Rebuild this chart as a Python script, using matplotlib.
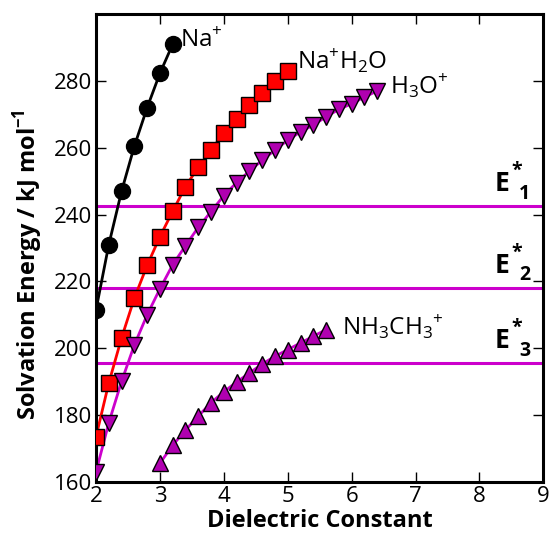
import matplotlib
matplotlib.use("Agg")
import matplotlib.pyplot as plt

plt.rcParams['font.family'] = ['Open Sans', 'DejaVu Sans']
plt.rcParams['mathtext.fontset'] = 'custom'
plt.rcParams['mathtext.rm'] = 'Open Sans'
plt.rcParams['mathtext.bf'] = 'Open Sans:bold'

# Na+
na_x = [2.0, 2.2, 2.4, 2.6, 2.8, 3.0, 3.2]
na_y = [211.5, 231.0, 247.0, 260.5, 272.0, 282.3, 291.0]

# Na+H2O
nah2o_x = [2.0, 2.2, 2.4, 2.6, 2.8, 3.0, 3.2, 3.4, 3.6, 3.8, 4.0, 4.2, 4.4, 4.6, 4.8, 5.0]
nah2o_y = [173.5, 189.6, 203.1, 215.0, 224.8, 233.4, 241.0, 248.4, 254.2, 259.3,
           264.5, 268.7, 272.7, 276.5, 280.0, 283.0]

# H3O+
h3o_x = [2.0, 2.2, 2.4, 2.6, 2.8, 3.0, 3.2, 3.4, 3.6, 3.8, 4.0, 4.2, 4.4, 4.6, 4.8,
         5.0, 5.2, 5.4, 5.6, 5.8, 6.0, 6.2, 6.4]
h3o_y = [163.0, 177.7, 190.1, 201.0, 210.0, 217.8, 225.0, 230.7, 236.2, 240.9, 245.7,
         249.6, 253.0, 256.3, 259.3, 262.3, 264.8, 266.8, 269.3, 271.5, 273.2, 275.2, 277.0]

# NH3CH3+
nh3_x = [3.0, 3.2, 3.4, 3.6, 3.8, 4.0, 4.2, 4.4, 4.6, 4.8, 5.0, 5.2, 5.4, 5.6]
nh3_y = [165.6, 171.0, 175.5, 179.7, 183.7, 187.0, 189.9, 192.6, 195.3, 197.6,
         199.6, 201.6, 203.6, 205.6]

# threshold energies
e_star = [242.5, 218.0, 195.5]
e_subs = ['1', '2', '3']

x_ticks = [2, 3, 4, 5, 6, 7, 8, 9]
y_ticks = [160, 180, 200, 220, 240, 260, 280]

purple = '#B000B0'
line_purple = '#CC00CC'

fig = plt.figure(figsize=(5.53, 5.44), dpi=100)
ax = fig.add_axes([0.1736, 0.114, 0.809, 0.860])

for y in e_star:
    ax.axhline(y, color=line_purple, lw=2.2, zorder=1)

ax.plot(na_x, na_y, '-', color='black', lw=2, zorder=2)
ax.plot(na_x, na_y, 'o', ms=11.5, mfc='black', mec='black', zorder=3)

ax.plot(nah2o_x, nah2o_y, '-', color='#FF0000', lw=2, zorder=2)
ax.plot(nah2o_x, nah2o_y, 's', ms=11, mfc='#FF0000', mec='black', mew=1, zorder=3)

ax.plot(h3o_x, h3o_y, '-', color=line_purple, lw=2, zorder=2)
ax.plot(h3o_x, h3o_y, 'v', ms=11, mfc=purple, mec='black', mew=1, zorder=3)

ax.plot(nh3_x, nh3_y, '-', color=line_purple, lw=2, zorder=2)
ax.plot(nh3_x, nh3_y, '^', ms=11, mfc=purple, mec='black', mew=1, zorder=3)

ax.set_xlim(2, 9)
ax.set_ylim(160, 300)
ax.set_xticks(x_ticks)
ax.set_yticks(y_ticks)
ax.tick_params(direction='in', length=7, width=1, labelsize=16, top=True, right=True,
               pad=3)
for s in ax.spines.values():
    s.set_linewidth(2.2)

ax.set_xlabel('Dielectric Constant', fontsize=17, fontweight='bold', labelpad=1)
ax.set_ylabel('Solvation Energy / kJ mol$^{\\mathbf{-1}}$', fontsize=17,
              fontweight='bold')
ax.yaxis.set_label_coords(-0.115, 0.465)

lab_kw = dict(fontsize=17.5, va='center', ha='left')
ax.text(3.32, 292, r'Na$^{+}$', **lab_kw)
ax.text(5.15, 286, r'Na$^{+}$H$_{2}$O', **lab_kw)
ax.text(6.6, 278.5, r'H$_{3}$O$^{+}$', **lab_kw)
ax.text(5.85, 206.5, r'NH$_{3}$CH$_{3}$$^{+}$', **lab_kw)

for y, sub in zip(e_star, e_subs):
    ax.text(8.24, y + 6.8, 'E', fontsize=19, fontweight='bold', ha='left', va='center')
    ax.text(8.50, y + 10.5, '*', fontsize=14, fontweight='bold', ha='left', va='center')
    ax.text(8.62, y + 3.8, sub, fontsize=14, fontweight='bold', ha='left', va='center')

fig.savefig('out.png', dpi=100)
